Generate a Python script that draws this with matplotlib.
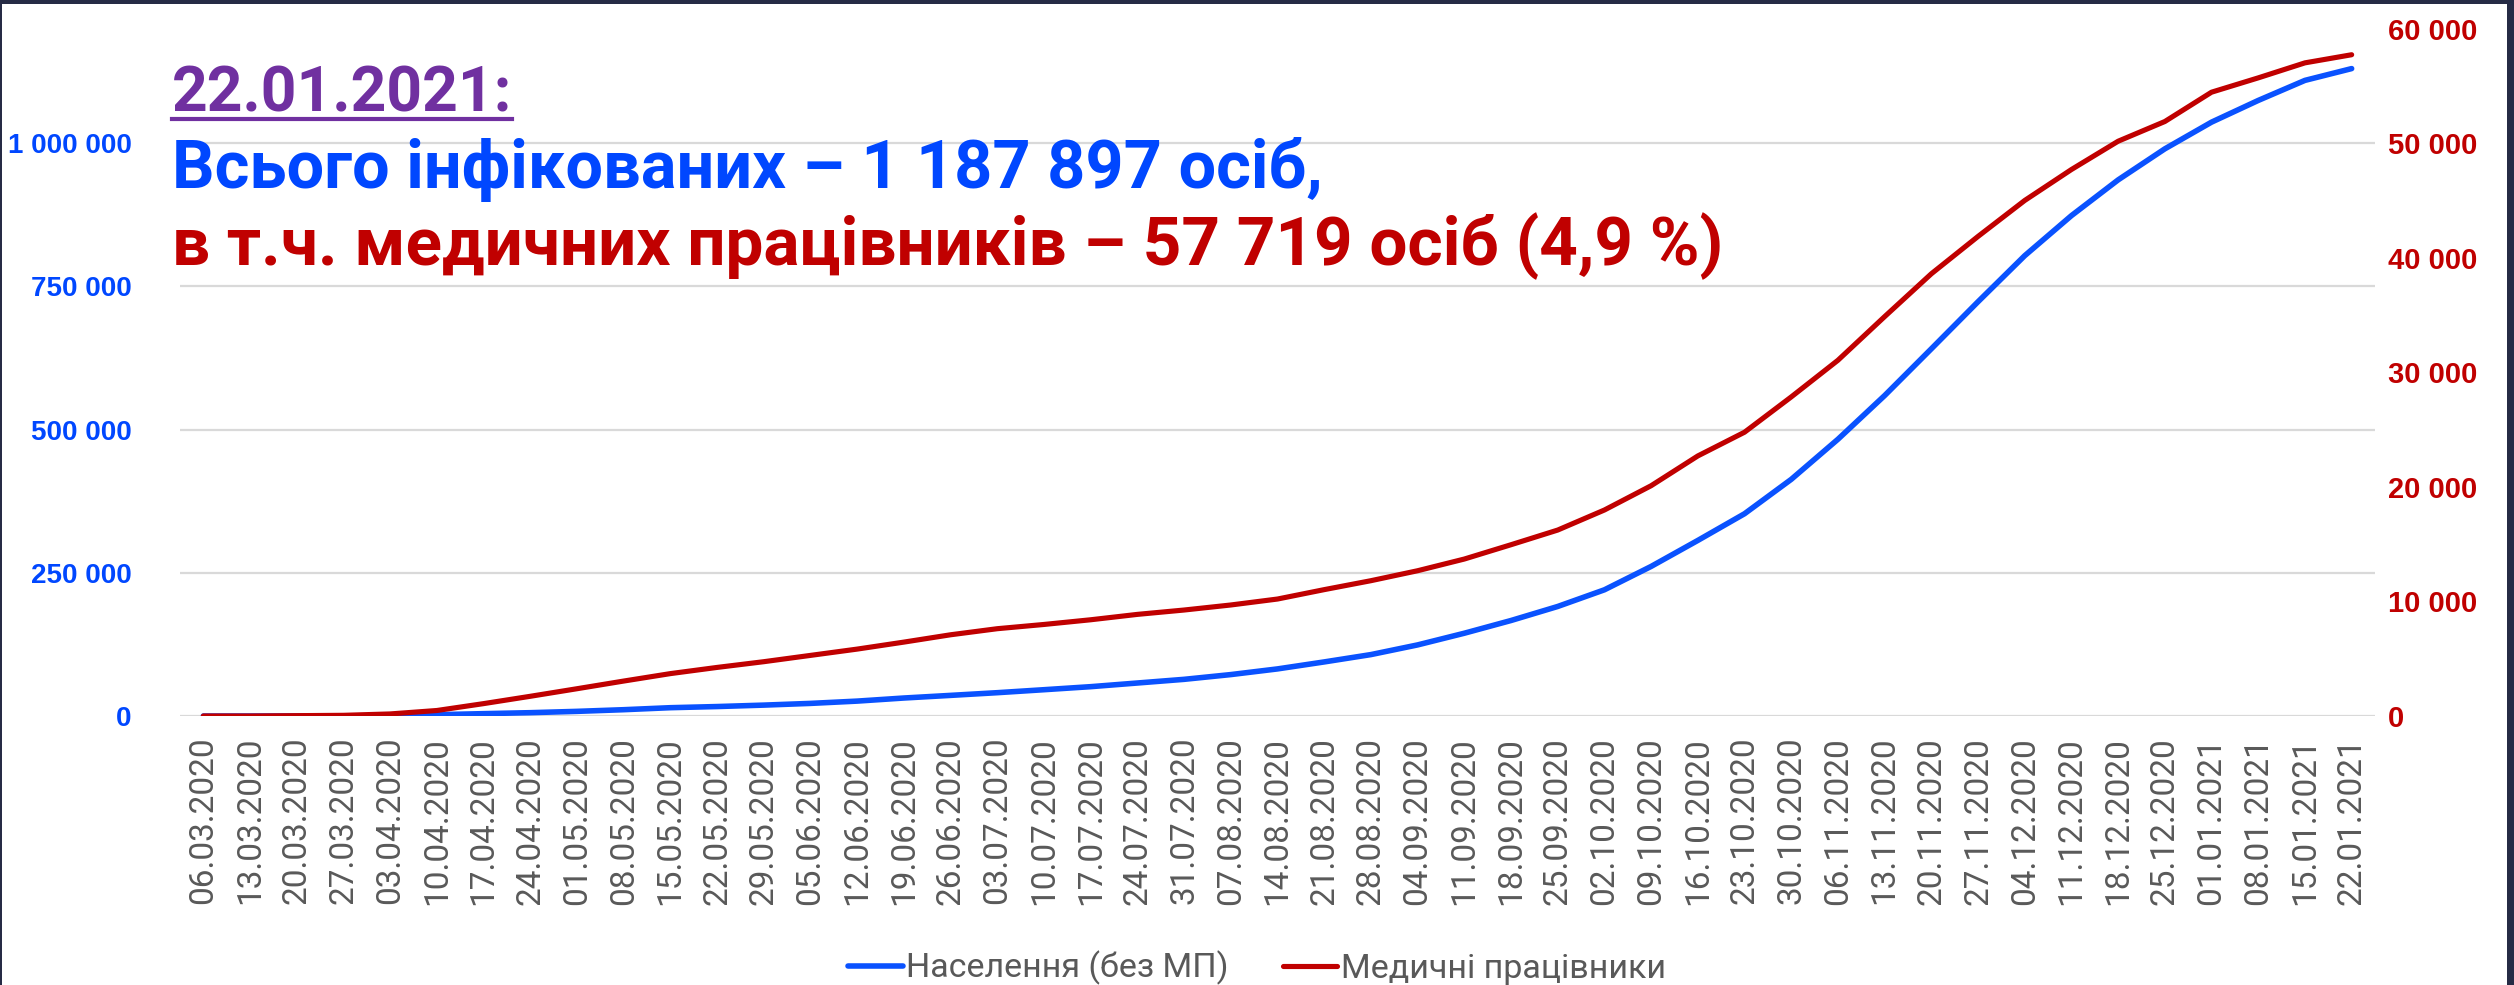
import matplotlib
matplotlib.use("Agg")
import matplotlib.pyplot as plt
from matplotlib.ticker import FuncFormatter
from matplotlib.lines import Line2D
from matplotlib.patches import Rectangle

# weekly dates (category axis)
dates = [
    "06.03.2020", "13.03.2020", "20.03.2020", "27.03.2020", "03.04.2020",
    "10.04.2020", "17.04.2020", "24.04.2020", "01.05.2020", "08.05.2020",
    "15.05.2020", "22.05.2020", "29.05.2020", "05.06.2020", "12.06.2020",
    "19.06.2020", "26.06.2020", "03.07.2020", "10.07.2020", "17.07.2020",
    "24.07.2020", "31.07.2020", "07.08.2020", "14.08.2020", "21.08.2020",
    "28.08.2020", "04.09.2020", "11.09.2020", "18.09.2020", "25.09.2020",
    "02.10.2020", "09.10.2020", "16.10.2020", "23.10.2020", "30.10.2020",
    "06.11.2020", "13.11.2020", "20.11.2020", "27.11.2020", "04.12.2020",
    "11.12.2020", "18.12.2020", "25.12.2020", "01.01.2021", "08.01.2021",
    "15.01.2021", "22.01.2021",
]

# population without medical workers (left axis)
population = [
    0, 0, 100, 300, 600, 2300, 4100, 5800, 8100, 11000,
    14500, 16500, 19000, 22000, 26000, 31400, 36000, 40700, 45900, 51200,
    57600, 64000, 72300, 82200, 94400, 107200, 124100, 144500, 166700, 191200,
    220300, 261100, 306500, 353100, 413100, 483100, 559400, 641000, 723200, 803600,
    873500, 935900, 990100, 1036700, 1074600, 1109600, 1130178,
]

# medical workers (right axis)
medics = [
    0, 0, 30, 60, 180, 480, 1080, 1720, 2380, 3050,
    3700, 4240, 4740, 5290, 5840, 6450, 7090, 7620, 7990, 8400,
    8870, 9250, 9690, 10210, 11030, 11810, 12680, 13700, 14950, 16230,
    17980, 20100, 22700, 24770, 27850, 31050, 34860, 38600, 41860, 45000,
    47700, 50170, 51890, 54450, 55700, 57010, 57719,
]

left_ticks = [0, 250000, 500000, 750000, 1000000]
right_ticks = [0, 10000, 20000, 30000, 40000, 50000, 60000]

series_labels = ["Населення (без МП)", "Медичні працівники"]
title_date = "22.01.2021:"
title_total = "Всього інфікованих – 1 187 897 осіб,"
title_medics = "в т.ч. медичних працівників – 57 719 осіб (4,9 %)"

BLUE_LINE = "#0A52FF"
BLUE_TEXT = "#0047FF"
RED = "#C00000"
PURPLE = "#7030A0"
GREY = "#595959"
GRID = "#D9D9D9"
FRAME = "#262B45"
TITLE_FONT = "Roboto"

W, H = 2514, 985
fig = plt.figure(figsize=(W / 100, H / 100), dpi=100)
fig.patch.set_facecolor("white")

ax = fig.add_axes([180 / W, 1 - 716 / H, (2375 - 180) / W, (716 - 28.6) / H])
x = list(range(len(dates)))
ax.plot(x, population, color=BLUE_LINE, lw=4.0, solid_capstyle="round",
        label=series_labels[0])
ax2 = ax.twinx()
ax2.plot(x, medics, color=RED, lw=3.7, solid_capstyle="round",
         label=series_labels[1])

ax.set_xlim(-0.5, len(dates) - 0.5)
ax.set_ylim(0, 1200000)
ax2.set_ylim(0, 60000)
ax.set_yticks(left_ticks)
ax2.set_yticks(right_ticks)
fmt = FuncFormatter(lambda v, p: f"{int(v):,}".replace(",", " "))
ax.yaxis.set_major_formatter(fmt)
ax2.yaxis.set_major_formatter(fmt)

ax.grid(axis="y", color=GRID, lw=1.6)
ax.set_axisbelow(True)
for a in (ax, ax2):
    for s in a.spines.values():
        s.set_visible(False)

ax.tick_params(axis="y", length=0, pad=35, labelcolor=BLUE_TEXT, labelsize=20)
ax2.tick_params(axis="y", length=0, pad=9, labelcolor=RED, labelsize=21)
for lbl in ax.get_yticklabels() + ax2.get_yticklabels():
    lbl.set_fontweight("bold")
    lbl.set_family("Liberation Sans")

ax.set_xticks(x)
ax.set_xticklabels(dates, rotation=90, fontsize=24, color=GREY,
                   family="Roboto", fontweight="normal")
ax.tick_params(axis="x", length=0, pad=15)

# header text over the chart
t1 = fig.text(172 / W, 1 - 112 / H, title_date, color=PURPLE, fontsize=45,
              fontweight="bold", family=TITLE_FONT, va="baseline")
fig.text(172 / W, 1 - 188 / H, title_total, color=BLUE_TEXT, fontsize=48,
         fontweight="bold", family=TITLE_FONT, va="baseline")
fig.text(172 / W, 1 - 265 / H, title_medics, color=RED, fontsize=48.5,
         fontweight="bold", family=TITLE_FONT, va="baseline")

fig.canvas.draw()
bb = t1.get_window_extent()
uy = 1 - 119 / H
fig.add_artist(Line2D([bb.x0 / W, bb.x1 / W], [uy, uy], transform=fig.transFigure,
                      color=PURPLE, lw=3))

handles = ax.get_lines() + ax2.get_lines()
fig.legend(handles, series_labels, loc="center", bbox_to_anchor=(0.5, 1 - 968 / H),
           ncol=2, frameon=False, handlelength=1.6, handletextpad=0.1,
           columnspacing=1.6, labelcolor=GREY,
           prop={"family": "Roboto", "size": 24.5})

# dark slide frame around the screenshot
fig.add_artist(Rectangle((0, 1 - 4 / H), 1, 4 / H, transform=fig.transFigure,
                         color=FRAME, lw=0))
fig.add_artist(Rectangle((1 - 7 / W, 0), 7 / W, 1, transform=fig.transFigure,
                         color=FRAME, lw=0))
fig.add_artist(Rectangle((0, 0), 2 / W, 1, transform=fig.transFigure,
                         color=FRAME, lw=0))

fig.savefig("out.png", dpi=100)
